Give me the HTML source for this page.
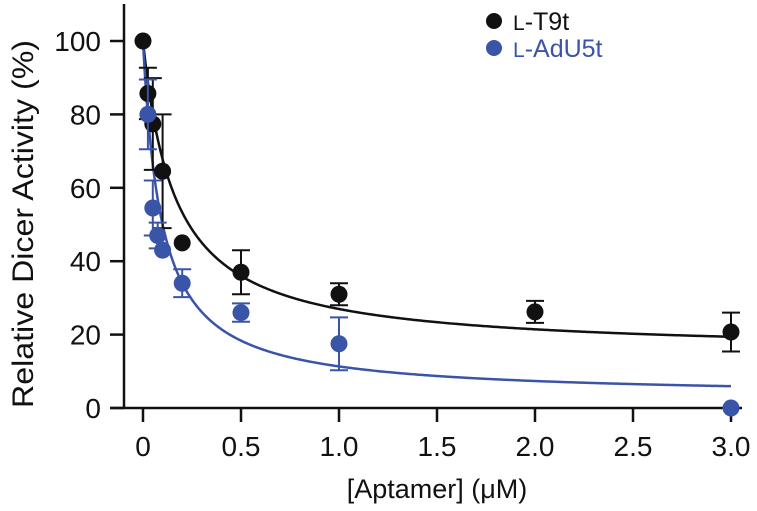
<!DOCTYPE html>
<html><head><meta charset="utf-8"><style>
html,body{margin:0;padding:0;background:#fff;}
svg{display:block;font-family:"Liberation Sans",Arial,sans-serif;}
</style></head><body>
<svg id="chart" width="757" height="511" viewBox="0 0 757 511" xmlns="http://www.w3.org/2000/svg">
<g id="axes"></g>
<g id="curves"></g>
<g id="marks"></g>
<g>
  <circle cx="494" cy="21" r="8" fill="#111"/>
  <text x="513" y="30" font-size="25" fill="#111"><tspan font-size="21">L</tspan>-T9t</text>
  <circle cx="494" cy="48" r="8" fill="#3a55a8"/>
  <text x="513" y="57" font-size="25" fill="#3a55a8"><tspan font-size="21">L</tspan>-AdU5t</text>
</g>
<text x="437" y="498" font-size="27" text-anchor="middle" fill="#111">[Aptamer] (μM)</text>
<text transform="translate(33,224) rotate(-90)" font-size="30" text-anchor="middle" textLength="368" lengthAdjust="spacingAndGlyphs" fill="#111">Relative Dicer Activity (%)</text>
</svg>
<script>
const xTicks = [0, 0.5, 1.0, 1.5, 2.0, 2.5, 3.0];
const xTickLabels = ["0", "0.5", "1.0", "1.5", "2.0", "2.5", "3.0"];
const yTicks = [0, 20, 40, 60, 80, 100];
const t9tX = [0, 0.025, 0.05, 0.1, 0.2, 0.5, 1.0, 2.0, 3.0];
const t9tY = [100, 85.7, 77.4, 64.5, 45, 37, 31, 26.2, 20.7];
const t9tErr = [0, 7, 12.5, 15.5, 0, 6, 3, 3, 5.3];
const adu5tX = [0.025, 0.05, 0.075, 0.1, 0.2, 0.5, 1.0, 3.0];
const adu5tY = [80, 54.5, 47, 43, 34, 26, 17.5, 0];
const adu5tErr = [9.5, 7.5, 3.5, 0, 3.8, 2.5, 7.2, 0];
const t9tFit = {bottom: 15, ic50: 0.164};
const adu5tFit = {bottom: 3, ic50: 0.094};

const NS = "http://www.w3.org/2000/svg";
const X0 = 143, XS = 196, Y0 = 408, YS = 3.67;
const sx = v => X0 + v * XS;
const sy = v => Y0 - v * YS;
function mk(tag, attrs, parent) {
  const e = document.createElementNS(NS, tag);
  for (const k in attrs) e.setAttribute(k, attrs[k]);
  parent.appendChild(e);
  return e;
}
const axes = document.getElementById("axes");
let l = mk("line", {x1: 124, y1: 4, x2: 124, y2: 409, stroke: "#111", "stroke-width": 2.5}, axes);


l = mk("line", {x1: 110, y1: 408, x2: 742, y2: 408, stroke: "#111", "stroke-width": 2.5}, axes);


xTicks.forEach((v, i) => {
  const t = mk("line", {x1: sx(v), y1: 408, x2: sx(v), y2: 422, stroke: "#111", "stroke-width": 2.5}, axes);
  
  
  const tx = mk("text", {x: sx(v), y: 456, "font-size": 28, "text-anchor": "middle", fill: "#111"}, axes);
  tx.textContent = xTickLabels[i];
  
  
});
yTicks.forEach(v => {
  const t = mk("line", {x1: 110, y1: sy(v), x2: 124, y2: sy(v), stroke: "#111", "stroke-width": 2.5}, axes);
  
  
  const tx = mk("text", {x: 101, y: sy(v) + 10, "font-size": 28, "text-anchor": "end", fill: "#111"}, axes);
  tx.textContent = String(v);
  
  
});
const curves = document.getElementById("curves");
function curve(fit, color, name) {
  let d = "";
  for (let i = 0; i <= 600; i++) {
    const x = 3 * Math.pow(i / 600, 2);
    const y = fit.bottom + (100 - fit.bottom) / (1 + x / fit.ic50);
    d += (i ? "L" : "M") + sx(x).toFixed(2) + "," + sy(y).toFixed(2);
  }
  const p = mk("path", {d: d, fill: "none", stroke: color, "stroke-width": 2.5}, curves);
  
  
}
curve(t9tFit, "#111", "t9t-fit-curve");
curve(adu5tFit, "#3a55a8", "adu5t-fit-curve");
const marks = document.getElementById("marks");
function series(xs, ys, es, color, name) {
  xs.forEach((x, i) => {
    const g = mk("g", {}, marks);
    
    
    if (es[i] > 0) {
      const cx = sx(x), t = sy(ys[i] + es[i]), b = sy(ys[i] - es[i]);
      mk("path", {d: `M${cx},${t}L${cx},${b}M${cx-9},${t}L${cx+9},${t}M${cx-9},${b}L${cx+9},${b}`, stroke: color, "stroke-width": 2, fill: "none"}, g);
    }
    mk("circle", {cx: sx(x), cy: sy(ys[i]), r: 8.5, fill: color}, g);
  });
}
series(t9tX, t9tY, t9tErr, "#111", "t9t");
series(adu5tX, adu5tY, adu5tErr, "#3a55a8", "adu5t");
</script>
</body></html>
